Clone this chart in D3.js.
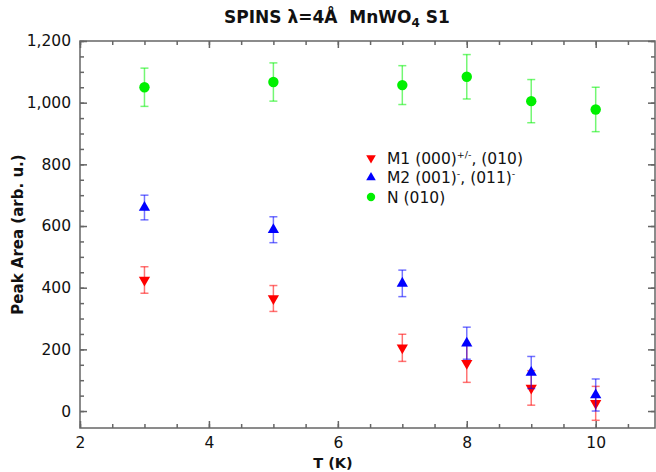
<!DOCTYPE html>
<html><head><meta charset="utf-8">
<script src="https://cdn.jsdelivr.net/npm/d3@7"></script>
<style>body{margin:0;background:#fff}svg{display:block;font-family:"DejaVu Sans",Verdana,sans-serif}text{white-space:pre}</style>
</head><body><svg id="c" width="656" height="472"></svg>
<script>
const temps = [3, 5, 7, 8, 9, 10];
const m1Values = [425, 365, 205, 155, 75, 25];
const m1Errors = [43, 42, 44, 62, 56, 55];
const m2Values = [660, 588, 414, 220, 125, 52];
const m2Errors = [40, 42, 43, 52, 52, 52];
const nValues = [1050, 1067, 1057, 1084, 1005, 978];
const nErrors = [62, 62, 63, 72, 70, 72];
const xTicks = [2, 4, 6, 8, 10];
const yTicks = [0, 200, 400, 600, 800, 1000, 1200];

const svg = d3.select("#c");
const L = 80, R = 655, T = 41, B = 428;
const x = d3.scaleLinear().domain([2, 10.92]).range([L, R]);
const y = d3.scaleLinear().domain([-55, 1200]).range([B, T]);
const axisColor = "#666";

svg.append("rect").attr("x", L).attr("y", T).attr("width", R - L).attr("height", B - T)
  .attr("fill", "none").attr("stroke", axisColor).attr("stroke-width", 1.5);

const xMinor = d3.range(2, 11, 0.5);
const yMinor = d3.range(0, 1201, 50);
function drawAxes() {
  const g = svg.append("g");
  g.append("g").attr("transform", `translate(0,${B})`).call(d3.axisBottom(x).tickValues(xMinor).tickSizeInner(-4).tickSizeOuter(0).tickFormat(""));
  g.append("g").attr("transform", `translate(0,${B})`).call(d3.axisBottom(x).tickValues(xTicks).tickSizeInner(-7).tickSizeOuter(0).tickPadding(9).tickFormat(d3.format("d")));
  g.append("g").attr("transform", `translate(0,${T})`).call(d3.axisTop(x).tickValues(xMinor).tickSizeInner(-4).tickSizeOuter(0).tickFormat(""));
  g.append("g").attr("transform", `translate(0,${T})`).call(d3.axisTop(x).tickValues(xTicks).tickSizeInner(-7).tickSizeOuter(0).tickFormat(""));
  g.append("g").attr("transform", `translate(${L},0)`).call(d3.axisLeft(y).tickValues(yMinor).tickSizeInner(-4).tickSizeOuter(0).tickFormat(""));
  g.append("g").attr("transform", `translate(${L},0)`).call(d3.axisLeft(y).tickValues(yTicks).tickSizeInner(-7).tickSizeOuter(0).tickPadding(9).tickFormat(d3.format(",")));
  g.append("g").attr("transform", `translate(${R},0)`).call(d3.axisRight(y).tickValues(yMinor).tickSizeInner(-4).tickSizeOuter(0).tickFormat(""));
  g.append("g").attr("transform", `translate(${R},0)`).call(d3.axisRight(y).tickValues(yTicks).tickSizeInner(-7).tickSizeOuter(0).tickFormat(""));
  g.selectAll(".domain").remove();
  g.selectAll("line").attr("stroke", axisColor).attr("stroke-width", 1.5);
  g.selectAll("text").attr("font-size", 15.5).attr("fill", "#111").attr("font-family", "DejaVu Sans, Verdana, sans-serif");
}
drawAxes();

const title = svg.append("text").attr("x", 337).attr("y", 23).attr("text-anchor", "middle")
  .attr("font-weight", "bold").attr("font-size", 17).attr("fill", "#111");
title.append("tspan").text("SPINS λ=4Å  MnWO");
title.append("tspan").attr("font-size", 12).attr("dy", 4).text("4");
title.append("tspan").attr("dy", -4).text(" S1");

svg.append("text").attr("x", 333).attr("y", 468).attr("text-anchor", "middle")
  .attr("font-weight", "bold").attr("font-size", 14.5).attr("fill", "#111").text("T (K)");
svg.append("text").attr("transform", `translate(23,${(T + B) / 2}) rotate(-90)`).attr("text-anchor", "middle")
  .attr("font-weight", "bold").attr("font-size", 15).attr("fill", "#111").text("Peak Area (arb. u.)");

const series = [
  { vals: m1Values, errs: m1Errors, color: "#ff0000", sym: d3.symbolTriangle, rot: 180, size: 55 },
  { vals: m2Values, errs: m2Errors, color: "#0000ff", sym: d3.symbolTriangle, rot: 0, size: 55 },
  { vals: nValues, errs: nErrors, color: "#00f000", sym: d3.symbolCircle, rot: 0, size: 85 }
];
series.forEach(s => {
  const g = svg.append("g");
  temps.forEach((t, i) => {
    const cx = x(t), v = s.vals[i], e = s.errs[i];
    const eg = g.append("g").attr("stroke", s.color).attr("stroke-opacity", 0.55).attr("stroke-width", 1.5);
    eg.append("line").attr("x1", cx).attr("x2", cx).attr("y1", y(v - e)).attr("y2", y(v + e));
    eg.append("line").attr("x1", cx - 4).attr("x2", cx + 4).attr("y1", y(v - e)).attr("y2", y(v - e));
    eg.append("line").attr("x1", cx - 4).attr("x2", cx + 4).attr("y1", y(v + e)).attr("y2", y(v + e));
  });
  temps.forEach((t, i) => {
    g.append("path").attr("d", d3.symbol().type(s.sym).size(s.size)())
      .attr("transform", `translate(${x(t)},${y(s.vals[i])}) rotate(${s.rot})`)
      .attr("fill", s.color);
  });
});

const leg = svg.append("g").attr("font-size", 15.5).attr("fill", "#111");
const legItems = [
  { parts: [["M1 (000)", 0], ["+/-", 1], [", (010)", 0]] },
  { parts: [["M2 (001)", 0], ["-", 1], [", (011)", 0], ["-", 1]] },
  { parts: [["N (010)", 0]] }
];
legItems.forEach((it, i) => {
  const yy = 158 + i * 19.5;
  const s = series[i];
  leg.append("path").attr("d", d3.symbol().type(s.sym).size(s.sym === d3.symbolCircle ? 55 : 40)())
    .attr("transform", `translate(371,${yy}) rotate(${s.rot})`).attr("fill", s.color);
  const tx = leg.append("text").attr("x", 387).attr("y", yy + 5.5);
  let sup = false;
  it.parts.forEach(([str, isSup]) => {
    const ts = tx.append("tspan").text(str);
    if (isSup && !sup) { ts.attr("font-size", 9.5).attr("dy", -6); sup = true; }
    else if (!isSup && sup) { ts.attr("dy", 6); sup = false; }
    else if (isSup) ts.attr("font-size", 9.5);
  });
});
</script></body></html>
